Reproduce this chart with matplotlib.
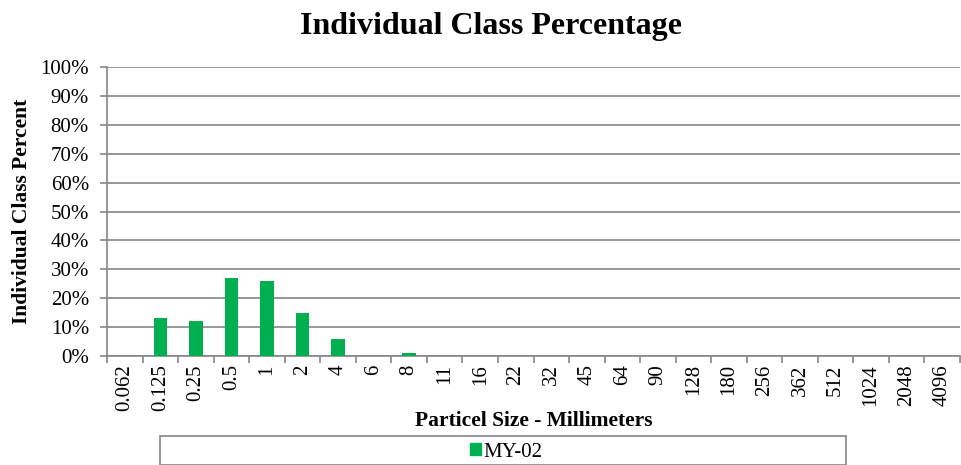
import matplotlib.pyplot as plt
from matplotlib.patches import Rectangle, Patch

sizes = ["0.062", "0.125", "0.25", "0.5", "1", "2", "4", "6", "8", "11", "16",
         "22", "32", "45", "64", "90", "128", "180", "256", "362", "512",
         "1024", "2048", "4096"]
percent = [0, 13, 12, 27, 26, 15, 6, 0, 1, 0, 0,
           0, 0, 0, 0, 0, 0, 0, 0, 0, 0,
           0, 0, 0]
series_name = "MY-02"

plt.rcParams['font.family'] = ['Liberation Serif', 'DejaVu Serif']
green = "#00B050"
grey = "#868686"

fig = plt.figure(figsize=(9.61, 4.65), dpi=100)
ax = fig.add_axes([107 / 961, 1 - 356 / 465, 853 / 961, 289 / 465])

x = range(len(sizes))
ax.bar(x, percent, width=0.38, color=green, zorder=3)

ax.set_xlim(-0.5, len(sizes) - 0.5)
ax.set_ylim(0, 100)
ax.set_yticks(range(0, 101, 10))
ax.set_yticklabels([f"{v}%" for v in range(0, 101, 10)], fontsize=15)
ax.set_xticks(list(x))
ax.set_xticklabels(sizes, rotation=90, fontsize=15)
ax.set_xticks([i - 0.5 for i in range(len(sizes) + 1)], minor=True)
ax.tick_params(axis='x', which='major', length=0, pad=6)
ax.tick_params(axis='x', which='minor', length=5, color=grey, width=1.2)
ax.tick_params(axis='y', length=5, color=grey, width=1.2, pad=8)

ax.grid(axis='y', color=grey, linewidth=1.2, zorder=0)
for side in ['top', 'right']:
    ax.spines[side].set_visible(False)
for side in ['left', 'bottom']:
    ax.spines[side].set_color(grey)
    ax.spines[side].set_linewidth(1.2)

ax.set_ylabel("Individual Class Percent", fontsize=15.5, fontweight='bold', labelpad=6)
ax.set_xlabel("Particel Size - Millimeters", fontsize=15.5, fontweight='bold', labelpad=0)
fig.suptitle("Individual Class Percentage", fontsize=23, fontweight='bold',
             x=491 / 961, y=1 - 12 / 465, va='top')

# legend box running off the bottom edge
fig.patches.append(Rectangle((160 / 961, 0), 686 / 961, 29 / 465,
                             transform=fig.transFigure, facecolor='white',
                             edgecolor=grey, linewidth=1.2))
fig.legend(handles=[Patch(color=green, label=series_name)], loc='center',
           bbox_to_anchor=(506 / 961, 1 - 452 / 465), frameon=False,
           fontsize=15, handlelength=0.55, handleheight=0.55, handletextpad=0.1)

fig.savefig("out.png", dpi=100)
